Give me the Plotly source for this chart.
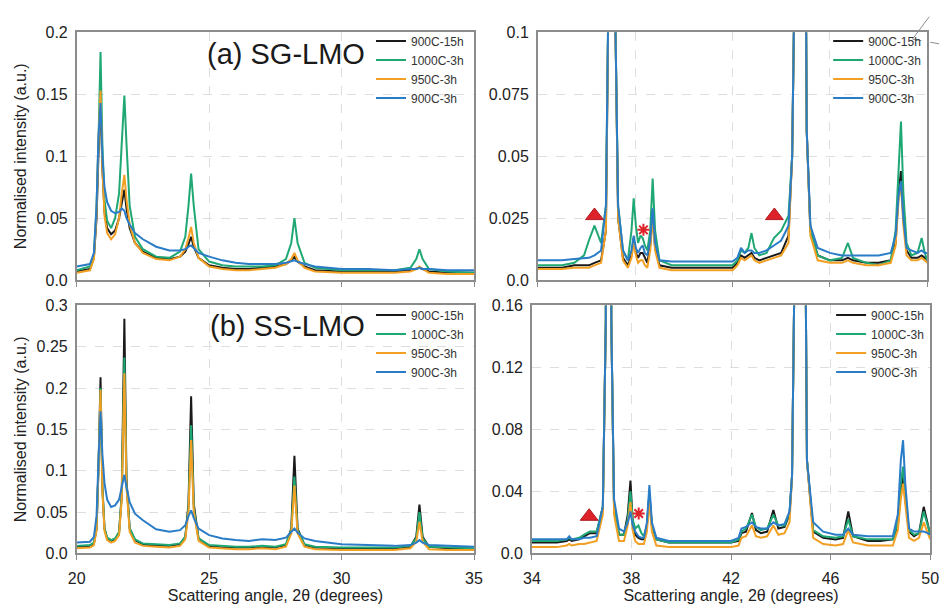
import plotly.graph_objects as go

# ---------------- data ----------------
series_names = ["900C-15h", "1000C-3h", "950C-3h", "900C-3h"]
series_colors = ["#1a1a1a", "#1fa874", "#f2a024", "#2a7cc7"]

# (a) SG-LMO, 20-35 degrees
x_sg_low = [20.0, 20.5, 20.65, 20.75, 20.82, 20.9, 20.97, 21.05, 21.15, 21.3, 21.45, 21.6, 21.7, 21.8,
            21.88, 22.0, 22.2, 22.5, 23.0, 23.5, 23.9, 24.1, 24.22, 24.32, 24.42, 24.6, 25.0, 25.5,
            26.0, 26.5, 27.0, 27.5, 27.9, 28.1, 28.22, 28.34, 28.6, 29.0, 30.0, 31.0, 32.0, 32.6,
            32.82, 32.94, 33.06, 33.3, 34.0, 35.0]
sg_low_900C_15h = [0.007, 0.009, 0.018, 0.05, 0.1, 0.148, 0.09, 0.055, 0.042, 0.037, 0.04, 0.05, 0.062, 0.073,
                   0.058, 0.042, 0.03, 0.023, 0.018, 0.017, 0.019, 0.023, 0.029, 0.035, 0.027, 0.018, 0.012, 0.01,
                   0.009, 0.009, 0.01, 0.011, 0.013, 0.016, 0.019, 0.015, 0.011, 0.008, 0.007, 0.007, 0.007, 0.008,
                   0.009, 0.01, 0.009, 0.007, 0.006, 0.006]
sg_low_1000C_3h = [0.008, 0.011, 0.02, 0.06, 0.11, 0.184, 0.11, 0.065, 0.048, 0.042, 0.05, 0.07, 0.11, 0.149,
                   0.11, 0.06, 0.035, 0.025, 0.019, 0.018, 0.023, 0.035, 0.06, 0.086, 0.06, 0.025, 0.015, 0.012,
                   0.011, 0.011, 0.011, 0.012, 0.017, 0.03, 0.05, 0.03, 0.014, 0.01, 0.008, 0.008, 0.008, 0.01,
                   0.017, 0.025, 0.017, 0.009, 0.007, 0.006]
sg_low_950C_3h = [0.006, 0.008, 0.017, 0.055, 0.11, 0.153, 0.09, 0.052, 0.038, 0.033, 0.037, 0.05, 0.07, 0.085,
                  0.065, 0.045, 0.03, 0.022, 0.017, 0.016, 0.019, 0.025, 0.034, 0.043, 0.03, 0.018, 0.011, 0.009,
                  0.008, 0.008, 0.009, 0.01, 0.013, 0.017, 0.022, 0.016, 0.01, 0.007, 0.006, 0.006, 0.006, 0.007,
                  0.009, 0.011, 0.009, 0.006, 0.005, 0.005]
sg_low_900C_3h = [0.011, 0.013, 0.022, 0.06, 0.115, 0.143, 0.1, 0.075, 0.063, 0.056, 0.054, 0.055, 0.058, 0.056,
                  0.05, 0.045, 0.038, 0.033, 0.027, 0.024, 0.024, 0.025, 0.027, 0.028, 0.026, 0.022, 0.019, 0.016,
                  0.014, 0.013, 0.013, 0.013, 0.014, 0.015, 0.016, 0.015, 0.013, 0.011, 0.009, 0.009, 0.008, 0.009,
                  0.009, 0.01, 0.009, 0.009, 0.008, 0.008]

# (a) SG-LMO, 34-50 degrees
x_sg_high = [34.0, 35.0, 35.5, 35.9, 36.1, 36.33, 36.6, 36.8, 36.92, 37.05, 37.18, 37.3, 37.5, 37.7, 37.85,
             37.94, 38.03, 38.12, 38.22, 38.31, 38.4, 38.5, 38.62, 38.72, 38.82, 39.0, 39.5, 40.0, 41.0,
             42.0, 42.2, 42.35, 42.5, 42.65, 42.78, 42.9, 43.1, 43.4, 43.7, 44.0, 44.3, 44.45, 44.6, 44.75,
             44.9, 45.05, 45.2, 45.5, 46.0, 46.5, 46.74, 46.95, 47.5, 48.0, 48.5, 48.7, 48.82, 48.92, 49.02,
             49.15, 49.35, 49.6, 49.77, 49.9, 50.0]
sg_high_900C_15h = [0.005, 0.005, 0.006, 0.006, 0.006, 0.007, 0.008, 0.02, 0.13, 1.0, 0.11, 0.025, 0.009, 0.006, 0.01,
                    0.017, 0.011, 0.009, 0.011, 0.011, 0.009, 0.007, 0.014, 0.027, 0.013, 0.006, 0.005, 0.005, 0.005,
                    0.005, 0.007, 0.01, 0.009, 0.01, 0.011, 0.009, 0.008, 0.009, 0.01, 0.011, 0.018, 0.05, 0.157, 1.0,
                    0.3, 0.06, 0.02, 0.01, 0.008, 0.008, 0.009, 0.008, 0.007, 0.007, 0.008, 0.015, 0.035, 0.044, 0.025,
                    0.012, 0.009, 0.009, 0.01, 0.009, 0.008]
sg_high_1000C_3h = [0.006, 0.006, 0.007, 0.01, 0.016, 0.022, 0.015, 0.03, 0.13, 1.0, 0.11, 0.03, 0.012, 0.008, 0.02,
                    0.033, 0.022, 0.015, 0.018, 0.017, 0.014, 0.012, 0.02, 0.041, 0.02, 0.008, 0.006, 0.006, 0.006,
                    0.006, 0.008, 0.012, 0.011, 0.013, 0.019, 0.013, 0.01, 0.011, 0.017, 0.02, 0.026, 0.05, 0.157, 1.0,
                    0.3, 0.06, 0.02, 0.01, 0.008, 0.009, 0.015, 0.009, 0.007, 0.006, 0.008, 0.02, 0.045, 0.064, 0.035,
                    0.015, 0.01, 0.011, 0.017, 0.011, 0.008]
sg_high_950C_3h = [0.0045, 0.0045, 0.005, 0.005, 0.005, 0.006, 0.007, 0.02, 0.13, 1.0, 0.11, 0.025, 0.008, 0.005, 0.009,
                   0.015, 0.01, 0.007, 0.008, 0.008, 0.006, 0.005, 0.012, 0.025, 0.012, 0.005, 0.004, 0.004, 0.004,
                   0.004, 0.006, 0.009, 0.008, 0.009, 0.01, 0.008, 0.007, 0.008, 0.009, 0.01, 0.015, 0.05, 0.157, 1.0,
                   0.3, 0.06, 0.018, 0.008, 0.007, 0.007, 0.008, 0.007, 0.006, 0.006, 0.007, 0.014, 0.032, 0.039, 0.022,
                   0.01, 0.008, 0.008, 0.009, 0.008, 0.007]
sg_high_900C_3h = [0.008, 0.008, 0.0085, 0.009, 0.009, 0.01, 0.012, 0.03, 0.13, 1.0, 0.11, 0.03, 0.012, 0.008, 0.012,
                   0.018, 0.013, 0.011, 0.013, 0.014, 0.011, 0.01, 0.016, 0.029, 0.015, 0.008, 0.0075, 0.0075, 0.0075,
                   0.0075, 0.009, 0.013, 0.011, 0.012, 0.012, 0.011, 0.011, 0.012, 0.014, 0.016, 0.022, 0.05, 0.157, 1.0,
                   0.3, 0.06, 0.022, 0.013, 0.011, 0.01, 0.01, 0.01, 0.01, 0.01, 0.011, 0.018, 0.034, 0.04, 0.025,
                   0.013, 0.012, 0.011, 0.012, 0.011, 0.011]

# (b) SS-LMO, 20-35 degrees
x_ss_low = [20.0, 20.5, 20.65, 20.75, 20.82, 20.9, 20.97, 21.05, 21.15, 21.3, 21.45, 21.6, 21.7, 21.8,
            21.88, 22.0, 22.2, 22.5, 23.0, 23.5, 23.9, 24.1, 24.22, 24.32, 24.42, 24.6, 25.0, 25.5,
            26.0, 26.5, 27.0, 27.5, 27.9, 28.1, 28.22, 28.34, 28.6, 29.0, 30.0, 31.0, 32.0, 32.6,
            32.82, 32.94, 33.06, 33.3, 34.0, 35.0]
ss_low_900C_15h = [0.008, 0.009, 0.012, 0.03, 0.1, 0.213, 0.08, 0.03, 0.018, 0.015, 0.017, 0.025, 0.07, 0.284,
                   0.09, 0.03, 0.016, 0.011, 0.009, 0.009, 0.011, 0.02, 0.06, 0.19, 0.06, 0.018, 0.009, 0.007,
                   0.007, 0.007, 0.008, 0.007, 0.01, 0.03, 0.118, 0.03, 0.01, 0.007, 0.006, 0.006, 0.006, 0.008,
                   0.02, 0.059, 0.02, 0.008, 0.006, 0.005]
ss_low_1000C_3h = [0.009, 0.01, 0.013, 0.03, 0.1, 0.2, 0.08, 0.03, 0.019, 0.016, 0.018, 0.026, 0.07, 0.237,
                   0.085, 0.03, 0.017, 0.012, 0.011, 0.01, 0.012, 0.02, 0.055, 0.155, 0.055, 0.018, 0.01, 0.009,
                   0.008, 0.008, 0.009, 0.008, 0.011, 0.028, 0.093, 0.028, 0.011, 0.008, 0.007, 0.007, 0.007, 0.009,
                   0.018, 0.05, 0.018, 0.008, 0.007, 0.006]
ss_low_950C_3h = [0.006, 0.007, 0.01, 0.028, 0.1, 0.198, 0.075, 0.027, 0.016, 0.013, 0.015, 0.022, 0.065, 0.218,
                  0.08, 0.026, 0.013, 0.009, 0.008, 0.007, 0.009, 0.017, 0.05, 0.137, 0.05, 0.015, 0.007, 0.006,
                  0.005, 0.005, 0.006, 0.005, 0.008, 0.024, 0.082, 0.024, 0.008, 0.005, 0.004, 0.004, 0.004, 0.006,
                  0.014, 0.038, 0.014, 0.005, 0.004, 0.004]
ss_low_900C_3h = [0.013, 0.014, 0.02, 0.045, 0.11, 0.172, 0.12, 0.085, 0.065, 0.056, 0.058, 0.065, 0.08, 0.095,
                  0.08, 0.062, 0.048, 0.04, 0.029, 0.026, 0.028, 0.034, 0.045, 0.052, 0.043, 0.03, 0.022, 0.018,
                  0.016, 0.015, 0.017, 0.016, 0.019, 0.026, 0.03, 0.025, 0.018, 0.015, 0.011, 0.01, 0.009, 0.01,
                  0.013, 0.016, 0.013, 0.01, 0.009, 0.008]

# (b) SS-LMO, 34-50 degrees
x_ss_high = [34.0, 35.0, 35.4, 35.5, 35.6, 35.9, 36.1, 36.33, 36.6, 36.85, 36.97, 37.08, 37.19, 37.3, 37.5,
             37.7, 37.85, 37.96, 38.05, 38.15, 38.28, 38.4, 38.5, 38.62, 38.72, 38.82, 39.0, 39.5, 40.0,
             41.0, 42.0, 42.3, 42.42, 42.6, 42.84, 43.0, 43.2, 43.45, 43.7, 43.9, 44.15, 44.35, 44.45, 44.6,
             44.75, 44.9, 45.05, 45.3, 45.7, 46.2, 46.5, 46.71, 46.9, 47.5, 48.0, 48.5, 48.7, 48.82, 48.91,
             49.0, 49.15, 49.35, 49.55, 49.74, 49.9, 50.0]
ss_high_900C_15h = [0.007, 0.007, 0.008, 0.009, 0.008, 0.009, 0.011, 0.013, 0.013, 0.03, 0.15, 1.0, 0.15, 0.03, 0.012,
                    0.012, 0.025, 0.047, 0.02, 0.012, 0.01, 0.009, 0.009, 0.018, 0.039, 0.018, 0.009, 0.007, 0.007,
                    0.007, 0.007, 0.008, 0.013, 0.014, 0.026, 0.015, 0.013, 0.014, 0.028, 0.016, 0.017, 0.025, 0.05, 0.25,
                    1.0, 0.4, 0.06, 0.014, 0.01, 0.009, 0.01, 0.027, 0.011, 0.008, 0.008, 0.009, 0.018, 0.04, 0.05,
                    0.035, 0.014, 0.011, 0.013, 0.03, 0.018, 0.012]
ss_high_1000C_3h = [0.008, 0.008, 0.009, 0.01, 0.009, 0.01, 0.012, 0.014, 0.014, 0.03, 0.15, 1.0, 0.15, 0.03, 0.012,
                    0.012, 0.022, 0.04, 0.022, 0.016, 0.018, 0.013, 0.011, 0.018, 0.037, 0.018, 0.009, 0.007, 0.007,
                    0.007, 0.007, 0.009, 0.014, 0.016, 0.025, 0.017, 0.015, 0.016, 0.025, 0.018, 0.018, 0.026, 0.05, 0.25,
                    1.0, 0.4, 0.06, 0.015, 0.011, 0.01, 0.011, 0.022, 0.011, 0.009, 0.009, 0.009, 0.02, 0.045, 0.056,
                    0.038, 0.015, 0.012, 0.013, 0.027, 0.018, 0.013]
ss_high_950C_3h = [0.004, 0.004, 0.005, 0.006, 0.005, 0.006, 0.006, 0.007, 0.008, 0.025, 0.15, 1.0, 0.15, 0.025, 0.008,
                   0.008, 0.018, 0.033, 0.015, 0.008, 0.006, 0.006, 0.006, 0.014, 0.033, 0.014, 0.005, 0.004, 0.004,
                   0.004, 0.004, 0.005, 0.01, 0.011, 0.018, 0.011, 0.01, 0.011, 0.018, 0.012, 0.013, 0.02, 0.05, 0.25,
                   1.0, 0.4, 0.06, 0.01, 0.006, 0.005, 0.006, 0.015, 0.007, 0.005, 0.005, 0.005, 0.015, 0.035, 0.045,
                   0.03, 0.01, 0.008, 0.01, 0.02, 0.013, 0.009]
ss_high_900C_3h = [0.009, 0.009, 0.009, 0.011, 0.009, 0.009, 0.01, 0.01, 0.011, 0.03, 0.15, 1.0, 0.15, 0.035, 0.016,
                   0.014, 0.02, 0.027, 0.018, 0.014, 0.011, 0.01, 0.01, 0.02, 0.044, 0.02, 0.01, 0.008, 0.008,
                   0.008, 0.008, 0.01, 0.016, 0.017, 0.02, 0.017, 0.016, 0.016, 0.02, 0.018, 0.019, 0.027, 0.05, 0.25,
                   1.0, 0.4, 0.06, 0.02, 0.014, 0.012, 0.012, 0.016, 0.012, 0.011, 0.011, 0.011, 0.025, 0.06, 0.073,
                   0.045, 0.016, 0.014, 0.014, 0.014, 0.013, 0.012]

# impurity markers (triangle = impurity phase, star = other)
sg_triangle_x = [36.33, 43.72]
sg_triangle_y = [0.026, 0.026]
sg_star_x = [38.34]
sg_star_y = [0.0203]
ss_triangle_x = [36.3]
ss_triangle_y = [0.0238]
ss_star_x = [38.29]
ss_star_y = [0.0257]

# tick labels
low_x_ticks = [20, 25, 30, 35]
high_x_ticks = [34, 38, 42, 46, 50]
sg_low_y_ticks = [0, 0.05, 0.1, 0.15, 0.2]
sg_low_y_text = ["0.0", "0.05", "0.1", "0.15", "0.2"]
sg_high_y_ticks = [0, 0.025, 0.05, 0.075, 0.1]
sg_high_y_text = ["0.0", "0.025", "0.05", "0.075", "0.1"]
ss_low_y_ticks = [0, 0.05, 0.1, 0.15, 0.2, 0.25, 0.3]
ss_low_y_text = ["0.0", "0.05", "0.1", "0.15", "0.2", "0.25", "0.3"]
ss_high_y_ticks = [0, 0.04, 0.08, 0.12, 0.16]
ss_high_y_text = ["0.0", "0.04", "0.08", "0.12", "0.16"]

# ---------------- figure ----------------
W, H = 949, 608
FONT = "Liberation Sans, Arial, Helvetica, sans-serif"
fig = go.Figure()

panels = [
    ("x", "y", "legend", x_sg_low, [sg_low_900C_15h, sg_low_1000C_3h, sg_low_950C_3h, sg_low_900C_3h]),
    ("x2", "y2", "legend2", x_sg_high, [sg_high_900C_15h, sg_high_1000C_3h, sg_high_950C_3h, sg_high_900C_3h]),
    ("x3", "y3", "legend3", x_ss_low, [ss_low_900C_15h, ss_low_1000C_3h, ss_low_950C_3h, ss_low_900C_3h]),
    ("x4", "y4", "legend4", x_ss_high, [ss_high_900C_15h, ss_high_1000C_3h, ss_high_950C_3h, ss_high_900C_3h]),
]
for xa, ya, lg, xs, ys_list in panels:
    for name, color, ys in zip(series_names, series_colors, ys_list):
        fig.add_trace(go.Scatter(x=xs, y=ys, mode="lines", name=name, xaxis=xa, yaxis=ya,
                                 legend=lg, line=dict(color=color, width=2)))

RED = "#dd2229"
for xa, ya, tx, ty, sx, sy in [("x2", "y2", sg_triangle_x, sg_triangle_y, sg_star_x, sg_star_y),
                               ("x4", "y4", ss_triangle_x, ss_triangle_y, ss_star_x, ss_star_y)]:
    fig.add_trace(go.Scatter(x=tx, y=ty, mode="markers", xaxis=xa, yaxis=ya, showlegend=False,
                             marker=dict(symbol="triangle-up", size=15.5, color=RED,
                                         line=dict(color="#b01a20", width=1))))
    fig.add_trace(go.Scatter(x=sx, y=sy, mode="markers", xaxis=xa, yaxis=ya, showlegend=False,
                             marker=dict(symbol="asterisk-open", size=10, color=RED,
                                         line=dict(color=RED, width=2))))


def px_x(p):
    return p / W


def px_y(p):
    return 1 - p / H


left_dom = [px_x(69), px_x(474)]
right_top_dom = [px_x(539), px_x(936)]
right_bot_dom = [px_x(533), px_x(939)]
top_dom = [px_y(280), px_y(25)]
bot_dom = [px_y(561), px_y(306)]

base = dict(showline=True, mirror=True, linecolor="#8c8c8c", linewidth=1.5,
            showgrid=True, gridcolor="#dedede", griddash="dash", gridwidth=1,
            zeroline=False, tickfont=dict(family=FONT, size=16, color="#222222"))
xframe = dict(base, ticks="outside", ticklen=5, tickcolor="#8c8c8c", ticklabelstandoff=5)
yframe = dict(base, ticks="", ticklabelstandoff=4)
xtitle = dict(text="Scattering angle, 2θ (degrees)", font=dict(family=FONT, size=16, color="#222222"),
              standoff=2)
ytitle = dict(text="Normalised intensity (a.u.)", font=dict(family=FONT, size=16, color="#222222"),
              standoff=6)

fig.update_layout(
    width=W, height=H, margin=dict(l=0, r=0, t=0, b=0),
    paper_bgcolor="white", plot_bgcolor="white",
    font=dict(family=FONT, color="#222222"),
    xaxis=dict(domain=left_dom, range=[20, 35], anchor="y", tickvals=low_x_ticks,
               showticklabels=False, **xframe),
    yaxis=dict(domain=top_dom, range=[0, 0.2], anchor="x", tickvals=sg_low_y_ticks,
               ticktext=sg_low_y_text, title=ytitle, **yframe),
    xaxis2=dict(domain=right_top_dom, range=[34, 50], anchor="y2", tickvals=high_x_ticks,
                showticklabels=False, **xframe),
    yaxis2=dict(domain=top_dom, range=[0, 0.1], anchor="x2", tickvals=sg_high_y_ticks,
                ticktext=sg_high_y_text, **yframe),
    xaxis3=dict(domain=left_dom, range=[20, 35], anchor="y3", tickvals=low_x_ticks,
                title=xtitle, **xframe),
    yaxis3=dict(domain=bot_dom, range=[0, 0.3], anchor="x3", tickvals=ss_low_y_ticks,
                ticktext=ss_low_y_text, title=ytitle, **yframe),
    xaxis4=dict(domain=right_bot_dom, range=[34, 50], anchor="y4", tickvals=high_x_ticks,
                title=xtitle, **xframe),
    yaxis4=dict(domain=bot_dom, range=[0, 0.16], anchor="x4", tickvals=ss_high_y_ticks,
                ticktext=ss_high_y_text, **yframe),
)

leg_common = dict(xanchor="left", yanchor="top", bgcolor="rgba(0,0,0,0)", borderwidth=0,
                  font=dict(family=FONT, size=12, color="#333333"), itemwidth=30,
                  tracegroupgap=0)
fig.update_layout(
    legend=dict(x=px_x(369), y=px_y(19), **leg_common),
    legend2=dict(x=px_x(835), y=px_y(19), **leg_common),
    legend3=dict(x=px_x(369), y=px_y(301), **leg_common),
    legend4=dict(x=px_x(838), y=px_y(301), **leg_common),
)

fig.add_annotation(x=px_x(282), y=px_y(47), xref="paper", yref="paper", text="(a) SG-LMO",
                   xanchor="center", yanchor="middle",
                   showarrow=False, font=dict(family=FONT, size=29, color="#1a1a1a"))
fig.add_annotation(x=px_x(284), y=px_y(327), xref="paper", yref="paper", text="(b) SS-LMO",
                   xanchor="center", yanchor="middle",
                   showarrow=False, font=dict(family=FONT, size=29, color="#1a1a1a"))

# small leftover pointer lines at the top-right corner of the original figure
fig.add_shape(type="line", xref="paper", yref="paper", x0=px_x(938), y0=px_y(9), x1=px_x(921),
              y1=px_y(32), line=dict(color="#8c8c8c", width=1))
fig.add_shape(type="line", xref="paper", yref="paper", x0=px_x(921), y0=px_y(32), x1=px_x(949),
              y1=px_y(37), line=dict(color="#8c8c8c", width=1, dash="dash"))

fig.write_html("out.html")
